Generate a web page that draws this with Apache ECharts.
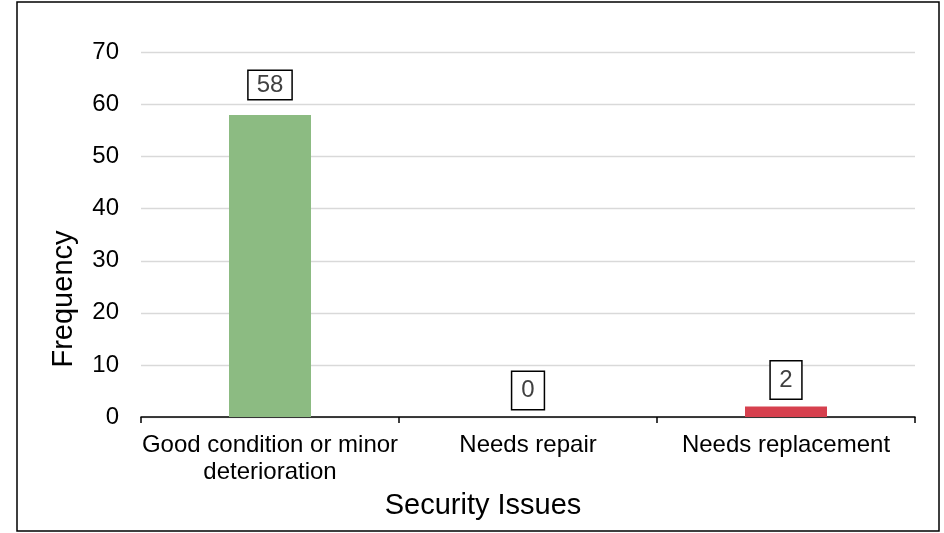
<!DOCTYPE html>
<html>
<head>
<meta charset="utf-8">
<script src="https://cdn.jsdelivr.net/npm/echarts@6/dist/echarts.min.js"></script>
<style>
  html, body { margin: 0; padding: 0; background: #fff; }
  #chart { width: 944px; height: 533px; }
</style>
</head>
<body>
<div id="chart"></div>
<script>
// Condition ratings for security items
const categories = ['Good condition or minor\ndeterioration', 'Needs repair', 'Needs replacement'];
const frequencies = [58, 0, 2];
const yTicks = { min: 0, max: 70, step: 10 };

// Bar colours per rating
const barColors = ['#8cbb82', '#8cbb82', '#d6404e'];
// Label box paddings and gaps per bar
const labelPads = [[2, 8], [6.5, 9], [6.5, 8.5]];
const labelGaps = [16, 8, 8];

const FONT = '"Liberation Sans", Arial, sans-serif';

const chart = echarts.init(document.getElementById('chart'), null, { renderer: 'canvas' });

const seriesData = frequencies.map((v, i) => ({
  value: v,
  itemStyle: { color: barColors[i] },
  label: { padding: labelPads[i], distance: labelGaps[i] }
}));

chart.setOption({
  animation: false,
  backgroundColor: '#fff',
  grid: { left: 141, right: 29, top: 52.5, bottom: 116 },
  xAxis: {
    type: 'category',
    data: categories,
    axisLine: { lineStyle: { color: '#000', width: 1.5 } },
    axisTick: { show: true, length: 6, lineStyle: { color: '#000', width: 1.5 } },
    axisLabel: {
      fontFamily: FONT, fontSize: 24, lineHeight: 27.5, color: '#000',
      margin: 14.5, interval: 0
    }
  },
  yAxis: {
    type: 'value',
    min: yTicks.min, max: yTicks.max, interval: yTicks.step,
    axisLine: { show: false },
    axisTick: { show: false },
    splitLine: { lineStyle: { color: '#d9d9d9', width: 1.3 } },
    axisLabel: { fontFamily: FONT, fontSize: 24, color: '#000', margin: 22 }
  },
  series: [{
    type: 'bar',
    data: seriesData,
    barWidth: 82,
    label: {
      show: true,
      position: 'top',
      fontFamily: FONT,
      fontSize: 24,
      lineHeight: 24,
      color: '#404040',
      backgroundColor: '#fff',
      borderColor: '#000',
      borderWidth: 1.5
    }
  }],
  graphic: [
    {
      type: 'rect',
      shape: { x: 17, y: 2, width: 922, height: 529 },
      style: { fill: 'none', stroke: '#000', lineWidth: 1.5 },
      silent: true
    },
    {
      type: 'text',
      x: 64, y: 299,
      rotation: Math.PI / 2,
      style: {
        text: 'Frequency', fontFamily: FONT, fontSize: 29, fill: '#000',
        align: 'center', verticalAlign: 'middle'
      }
    },
    {
      type: 'text',
      x: 483, y: 506,
      style: {
        text: 'Security Issues', fontFamily: FONT, fontSize: 29, fill: '#000',
        align: 'center', verticalAlign: 'middle'
      }
    }
  ]
});
</script>
</body>
</html>
